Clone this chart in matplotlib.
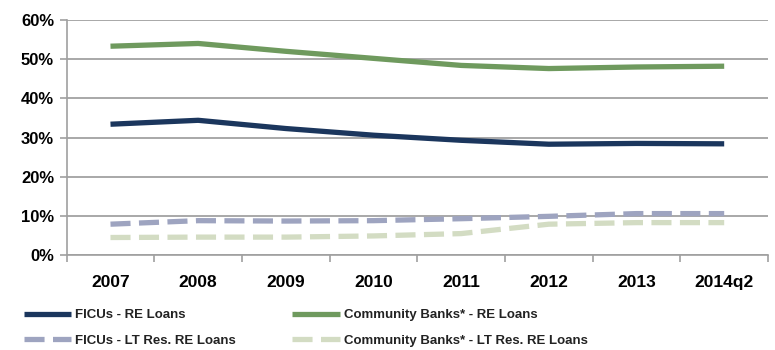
import matplotlib
matplotlib.use("Agg")
import matplotlib.pyplot as plt
from matplotlib.ticker import FixedLocator

plt.rcParams['font.family'] = ['Liberation Sans', 'DejaVu Sans']

years = ['2007', '2008', '2009', '2010', '2011', '2012', '2013', '2014q2']
ficu_re = [33.4, 34.4, 32.3, 30.6, 29.3, 28.3, 28.5, 28.4]
cb_re = [53.3, 54.0, 52.0, 50.2, 48.4, 47.6, 48.0, 48.2]
ficu_lt = [7.9, 8.8, 8.7, 8.8, 9.3, 9.9, 10.6, 10.6]
cb_lt = [4.5, 4.6, 4.6, 4.9, 5.5, 7.9, 8.3, 8.3]

fig = plt.figure(figsize=(7.75, 3.5), dpi=100)
ax = fig.add_axes([0.086, 0.271, 0.905, 0.672])

x = list(range(len(years)))
ax.plot(x, ficu_re, color='#1b365d', lw=3.8, solid_capstyle='butt', solid_joinstyle='round', label='FICUs - RE Loans', zorder=3)
ax.plot(x, ficu_lt, color='#9ea4c0', lw=3.8, ls=(0, (3.8, 1.6)), dash_capstyle='butt', label='FICUs - LT Res. RE Loans', zorder=3)
ax.plot(x, cb_re, color='#6f9a5e', lw=3.8, solid_capstyle='butt', solid_joinstyle='round', label='Community Banks* - RE Loans', zorder=3)
ax.plot(x, cb_lt, color='#d3dcc3', lw=3.8, ls=(0, (3.8, 1.6)), dash_capstyle='butt', label='Community Banks* - LT Res. RE Loans', zorder=3)

ax.set_xlim(-0.5, len(years) - 0.5)
ax.set_ylim(0, 60)
ax.set_yticks(range(0, 61, 10))
ax.set_yticklabels([f'{v}%' for v in range(0, 61, 10)], fontsize=12, fontweight='bold')
ax.set_xticks(x)
ax.set_xticklabels(years, fontsize=12.5, fontweight='bold')
ax.xaxis.set_minor_locator(FixedLocator([i - 0.5 for i in range(len(years) + 1)]))
ax.tick_params(axis='x', which='major', length=0, pad=14)
ax.tick_params(axis='x', which='minor', length=5, color='#a0a0a0', width=1.2)
ax.tick_params(axis='y', length=5, color='#a0a0a0', width=1.2, pad=4)

ax.grid(axis='y', color='#a8a8a8', lw=1.4)
ax.set_axisbelow(True)
for s in ['top', 'right']:
    ax.spines[s].set_visible(False)
ax.spines['left'].set_color('#a0a0a0')
ax.spines['bottom'].set_color('#a0a0a0')
ax.spines['left'].set_linewidth(1.2)
ax.spines['bottom'].set_linewidth(1.2)

leg = fig.legend(loc='lower left', bbox_to_anchor=(0.015, -0.025), ncol=2, frameon=False,
                 prop={'size': 9.5, 'weight': 'bold'}, handlelength=3.6, handletextpad=0.3,
                 columnspacing=4.3, labelspacing=1.0)
for t in leg.get_texts():
    t.set_color('#222222')

fig.savefig('out.png', dpi=100)
